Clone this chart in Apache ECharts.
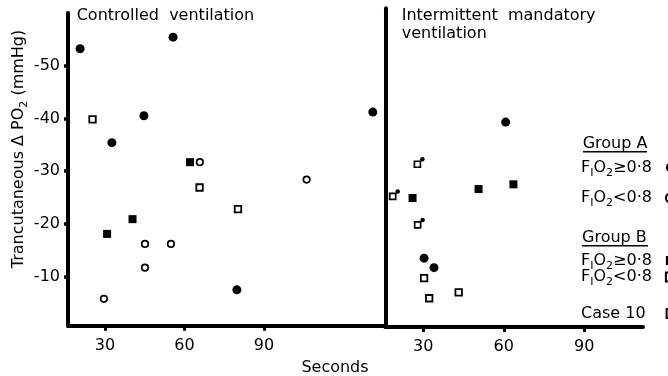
<!DOCTYPE html>
<html><head><meta charset="utf-8">
<script src="https://cdn.jsdelivr.net/npm/echarts@6/dist/echarts.min.js"></script>
<style>html,body{margin:0;padding:0;background:#fff}#c{width:668px;height:376px}</style>
</head><body><div id="c"></div>
<script>
// ---- data (seconds, transcutaneous delta PO2 in mmHg) ----
const xTickValues = [30, 60, 90];
const yTickValues = [-50, -40, -30, -20, -10];

// Controlled ventilation panel
const cvGroupAHigh = [[20.6, -53.2], [55.7, -55.4], [44.7, -40.5], [32.6, -35.4], [79.8, -7.5], [131.1, -41.2]];
const cvGroupALow  = [[65.8, -31.7], [106.1, -28.4], [45.1, -16.2], [54.9, -16.2], [45.1, -11.7], [29.6, -5.8]];
const cvGroupBHigh = [[62.1, -31.7], [40.4, -20.9], [30.8, -18.1]];
const cvGroupBLow  = [[25.3, -39.8], [65.7, -26.9], [80.2, -22.8]];

// Intermittent mandatory ventilation panel
const imvGroupAHigh = [[60.7, -39.3], [30.3, -13.5], [34.0, -11.7]];
const imvGroupBHigh = [[50.6, -26.6], [63.6, -27.5], [26.0, -24.9]];
const imvGroupBLow  = [[30.3, -9.7], [32.2, -5.9], [43.2, -7.0]];
const imvCase10     = [[27.8, -31.3], [18.6, -25.2], [27.9, -19.8]];

const N_AH = 'Group A FIO2 ≥ 0.8', N_AL = 'Group A FIO2 < 0.8';
const N_BH = 'Group B FIO2 ≥ 0.8', N_BL = 'Group B FIO2 < 0.8', N_C10 = 'Case 10';

const FONT = 'DejaVu Sans';
const BLACK = '#000';
const RICH = {
  n: {fontFamily: FONT, fontSize: 16, lineHeight: 22, color: BLACK},
  s: {fontFamily: FONT, fontSize: 11, lineHeight: 11, verticalAlign: 'bottom', color: BLACK},
  p: {width: 9}, q: {width: 16}
};
const GRICH = {
  n: {fontFamily: FONT, fontSize: 16, lineHeight: 22, fill: BLACK},
  s: {fontFamily: FONT, fontSize: 11, lineHeight: 11, verticalAlign: 'bottom', fill: BLACK}
};

const sFilledCircle = {symbol: 'circle', symbolSize: 9, itemStyle: {color: BLACK, opacity: 1}};
const sOpenCircle   = {symbol: 'circle', symbolSize: 6.5, itemStyle: {color: '#fff', borderColor: BLACK, borderWidth: 1.7, opacity: 1}};
const sFilledSquare = {symbol: 'rect', symbolSize: 8, itemStyle: {color: BLACK, opacity: 1}};
const sOpenSquare   = {symbol: 'rect', symbolSize: 6.5, itemStyle: {color: '#fff', borderColor: BLACK, borderWidth: 1.8, opacity: 1}};
const sCaseSquare   = {symbol: 'rect', symbolSize: 6, itemStyle: {color: '#fff', borderColor: BLACK, borderWidth: 1.7, opacity: 1}};
const sCaseDot      = {symbol: 'circle', symbolSize: 4.5, symbolOffset: [5, -5], itemStyle: {color: BLACK, opacity: 1}};

function sc(name, data, style, panel) {
  return Object.assign({name, type: 'scatter', data, xAxisIndex: panel, yAxisIndex: panel, silent: true}, style);
}

function xAx(grid, min, max) {
  return {gridIndex: grid, type: 'value', min, max,
    axisLine: {show: true, onZero: false, lineStyle: {color: BLACK, width: 4}},
    axisTick: {show: true, customValues: xTickValues, length: 5, lineStyle: {color: BLACK, width: 3}},
    axisLabel: {show: true, customValues: xTickValues, margin: 12, fontFamily: FONT, fontSize: 16, color: BLACK},
    splitLine: {show: false}};
}

function legendAt(name, label, cy) {
  return {data: [name], left: 581, top: cy - 11, padding: 0, align: 'right', itemWidth: 9, itemHeight: 9,
    selectedMode: false, formatter: () => label,
    textStyle: {fontFamily: FONT, fontSize: 16, color: BLACK, rich: RICH}};
}

const fLabelHi = '{n|F}{s|I}{n|O}{s|2}{n|≥0·8}{p| }';
const fLabelLo = '{n|F}{s|I}{n|O}{s|2}{n|<0·8}{p| }';

const option = {
  animation: false,
  backgroundColor: '#fff',
  grid: [
    {left: 68, top: 12.9, width: 317, height: 312.8, outerBoundsMode: 'none'},
    {left: 385.3, top: 8.3, width: 257.7, height: 318.7, outerBoundsMode: 'none'}
  ],
  xAxis: [xAx(0, 16.04, 135.7), xAx(1, 15.84, 111.9)],
  yAxis: [
    {gridIndex: 0, type: 'value', inverse: true, min: -60, max: -0.7,
      axisLine: {show: true, onZero: false, lineStyle: {color: BLACK, width: 4}},
      axisTick: {show: true, customValues: yTickValues, length: 4, lineStyle: {color: BLACK, width: 3.5}},
      axisLabel: {show: true, customValues: yTickValues, margin: 8, fontFamily: FONT, fontSize: 16, color: BLACK},
      splitLine: {show: false}},
    {gridIndex: 1, type: 'value', inverse: true, min: -60.87, max: -0.45,
      axisLine: {show: true, onZero: false, lineStyle: {color: BLACK, width: 4}},
      axisTick: {show: false}, axisLabel: {show: false}, splitLine: {show: false}}
  ],
  legend: [
    legendAt(N_AH, fLabelHi, 170.5),
    legendAt(N_AL, fLabelLo, 201),
    legendAt(N_BH, fLabelHi, 263.5),
    legendAt(N_BL, fLabelLo, 280),
    legendAt(N_C10, '{n|Case 10}{q| }', 316.5)
  ],
  graphic: [
    {type: 'text', x: 76.7, y: 15.5, style: {text: 'Controlled  ventilation', fontFamily: FONT, fontSize: 16, fill: BLACK, align: 'left', verticalAlign: 'middle'}},
    {type: 'text', x: 401.7, y: 15.8, style: {text: 'Intermittent  mandatory', fontFamily: FONT, fontSize: 16, fill: BLACK, align: 'left', verticalAlign: 'middle'}},
    {type: 'text', x: 401.7, y: 33.8, style: {text: 'ventilation', fontFamily: FONT, fontSize: 16, fill: BLACK, align: 'left', verticalAlign: 'middle'}},
    {type: 'text', x: 335, y: 367.5, style: {text: 'Seconds', fontFamily: FONT, fontSize: 16, fill: BLACK, align: 'center', verticalAlign: 'middle'}},
    {type: 'text', x: 19, y: 149, rotation: Math.PI / 2,
      style: {text: '{n|Trancutaneous Δ PO}{s|2}{n| (mmHg)}', rich: GRICH, fontFamily: FONT, fontSize: 16, fill: BLACK, align: 'center', verticalAlign: 'middle'}},
    {type: 'text', x: 582.7, y: 144, style: {text: 'Group A', fontFamily: FONT, fontSize: 16, fill: BLACK, align: 'left', verticalAlign: 'middle'}},
    {type: 'line', shape: {x1: 583, y1: 151.7, x2: 647, y2: 151.7}, style: {stroke: BLACK, lineWidth: 1.5}},
    {type: 'text', x: 582, y: 237.5, style: {text: 'Group B', fontFamily: FONT, fontSize: 16, fill: BLACK, align: 'left', verticalAlign: 'middle'}},
    {type: 'line', shape: {x1: 582, y1: 245.7, x2: 648, y2: 245.7}, style: {stroke: BLACK, lineWidth: 1.5}}
  ],
  series: [
    sc(N_AH, cvGroupAHigh, sFilledCircle, 0),
    sc(N_AL, cvGroupALow, sOpenCircle, 0),
    sc(N_BH, cvGroupBHigh, sFilledSquare, 0),
    sc(N_BL, cvGroupBLow, sOpenSquare, 0),
    sc(N_AH, imvGroupAHigh, sFilledCircle, 1),
    sc(N_BH, imvGroupBHigh, sFilledSquare, 1),
    sc(N_BL, imvGroupBLow, sOpenSquare, 1),
    sc(N_C10, imvCase10, sCaseSquare, 1),
    sc(N_C10, imvCase10, sCaseDot, 1)
  ]
};
const chart = echarts.init(document.getElementById('c'));
chart.setOption(option);
</script></body></html>
